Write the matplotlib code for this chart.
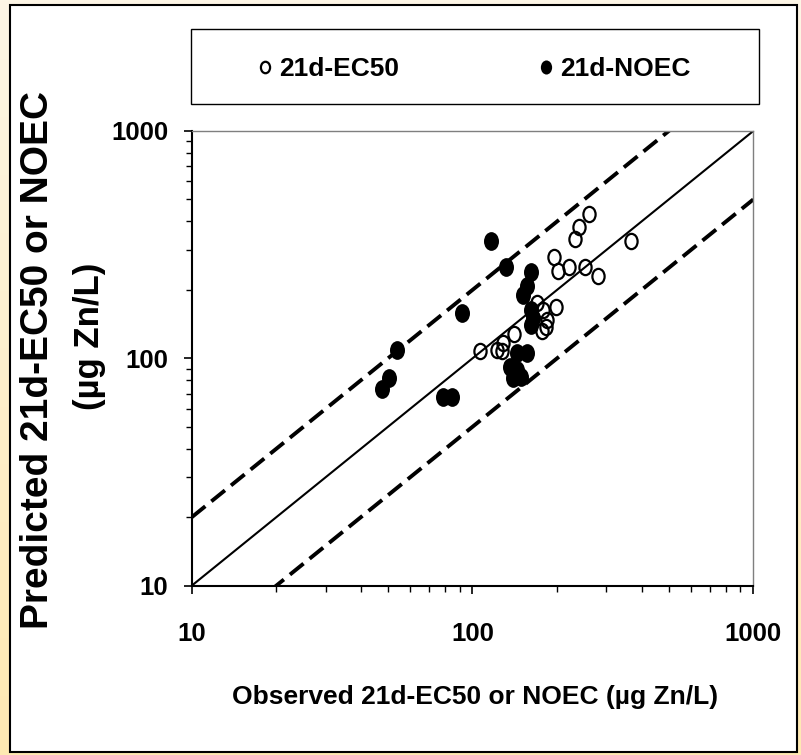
import numpy as np
import matplotlib
matplotlib.use('Agg')
import matplotlib.pyplot as plt
from matplotlib.path import Path
from matplotlib.transforms import Affine2D
from matplotlib.patches import Rectangle
from matplotlib.colors import LinearSegmentedColormap
from matplotlib.ticker import FuncFormatter, NullFormatter, LogLocator

plt.rcParams['font.family'] = ['Liberation Sans', 'DejaVu Sans']
plt.rcParams['font.weight'] = 'bold'

# ---- data ----
ec50_obs = [260, 239, 232, 367, 195, 202, 221, 252, 280, 198, 170, 178, 184, 177, 183, 141, 128, 122, 127, 106]
ec50_pred = [431, 378, 335, 328, 279, 242, 252, 252, 230, 168, 175, 163, 147, 132, 137, 128, 117, 109, 108, 108]
noec_obs = [116, 132, 161, 156, 151, 91.5, 162, 164, 162, 53.7, 50.4, 47.6, 78.7, 84.3, 144, 156, 136, 144, 139, 149]
noec_pred = [329, 251, 240, 208, 190, 159, 163, 150, 140, 109, 82, 73.3, 67.8, 67.8, 106, 106, 91.6, 88.9, 82, 82.8]
axis_range = [10, 1000]
factor_upper = 2.0
factor_lower = 0.5
tick_values = [10, 100, 1000]
series_labels = ['21d-EC50', '21d-NOEC']
xlabel = 'Observed 21d-EC50 or NOEC (µg Zn/L)'
ylabel1 = 'Predicted 21d-EC50 or NOEC'
ylabel2 = '(µg Zn/L)'

W, H = 801, 755
fig = plt.figure(figsize=(W / 100, H / 100), dpi=100)
fig.patch.set_facecolor('white')

# page background gradient
bg = fig.add_axes([0, 0, 1, 1], zorder=-10)
grad = np.linspace(0, 1, 256).reshape(-1, 1)
cmap = LinearSegmentedColormap.from_list('bg', ['#FDF6E6', '#FFE9B2'])
bg.imshow(grad, aspect='auto', cmap=cmap, extent=[0, 1, 0, 1], origin='upper')
bg.axis('off')

# white framed panel
fig.add_artist(Rectangle((9.5 / W, 1 - 752 / H), (797 - 9.5) / W, (752 - 5) / H,
                         transform=fig.transFigure, facecolor='white',
                         edgecolor='black', lw=1.5, zorder=-5))

# legend box
fig.add_artist(Rectangle((191 / W, 1 - 104 / H), (759 - 191) / W, (104 - 29) / H,
                         transform=fig.transFigure, facecolor='white',
                         edgecolor='black', lw=1.0, zorder=1))

L, R, T, B = 191.7, 753.3, 131, 585.7
ax = fig.add_axes([L / W, 1 - B / H, (R - L) / W, (B - T) / H])
ax.set_xscale('log')
ax.set_yscale('log')
ax.set_xlim(axis_range)
ax.set_ylim(axis_range)

lx = np.array(axis_range, dtype=float)
ax.plot(lx, lx, color='black', lw=1.5, zorder=2)
ax.plot(lx, factor_upper * lx, color='black', lw=2.8, dashes=(4.5, 2), zorder=2)
ax.plot(lx, factor_lower * lx, color='black', lw=2.8, dashes=(4.5, 2), zorder=2)

ell = Path.unit_circle().transformed(Affine2D().scale(0.8, 1.0))
h2, = ax.plot(noec_obs, noec_pred, ls='none', marker=ell, ms=13.5, mfc='black',
              mec='black', mew=0, label=series_labels[1], zorder=3)
h1, = ax.plot(ec50_obs, ec50_pred, ls='none', marker=ell, ms=11, mfc='none',
              mec='black', mew=1.6, label=series_labels[0], zorder=4)

for s in ['top', 'right']:
    ax.spines[s].set_color('#7f7f7f')
    ax.spines[s].set_linewidth(1.0)
for s in ['left', 'bottom']:
    ax.spines[s].set_color('black')
    ax.spines[s].set_linewidth(1.5)

ax.set_xticks(tick_values)
ax.set_yticks(tick_values)
fmt = FuncFormatter(lambda v, p: f'{v:g}')
ax.xaxis.set_major_formatter(fmt)
ax.yaxis.set_major_formatter(fmt)
ax.xaxis.set_minor_locator(LogLocator(base=10, subs=np.arange(2, 10)))
ax.yaxis.set_minor_locator(LogLocator(base=10, subs=np.arange(2, 10)))
ax.xaxis.set_minor_formatter(NullFormatter())
ax.yaxis.set_minor_formatter(NullFormatter())
ax.tick_params(which='major', length=5.8, width=1.2, direction='out', labelsize=18.5)
ax.tick_params(which='minor', length=4.3, width=1.0, direction='out')
ax.tick_params(axis='x', which='major', pad=20)
ax.tick_params(axis='y', which='major', pad=11)
for lab in ax.get_xticklabels() + ax.get_yticklabels():
    lab.set_fontweight('bold')

fig.text(38 / W, 1 - 360 / H, ylabel1, rotation=90, ha='center', va='center',
         fontsize=28, fontweight='bold')
fig.text(90 / W, 1 - 336 / H, ylabel2, rotation=90, ha='center', va='center',
         fontsize=25, fontweight='bold')
fig.text(475 / W, 1 - 697 / H, xlabel, ha='center', va='center',
         fontsize=19, fontweight='bold')

leg = fig.legend(handles=[h1, h2], labels=series_labels, loc='center',
                 bbox_to_anchor=(474.4 / W, 1 - 69 / H), ncol=2, frameon=False,
                 prop={'size': 19, 'weight': 'bold'}, handlelength=0.5,
                 handletextpad=0.3, columnspacing=5.3, markerscale=0.75)
leg.set_zorder(5)

fig.savefig('out.png', dpi=100)
